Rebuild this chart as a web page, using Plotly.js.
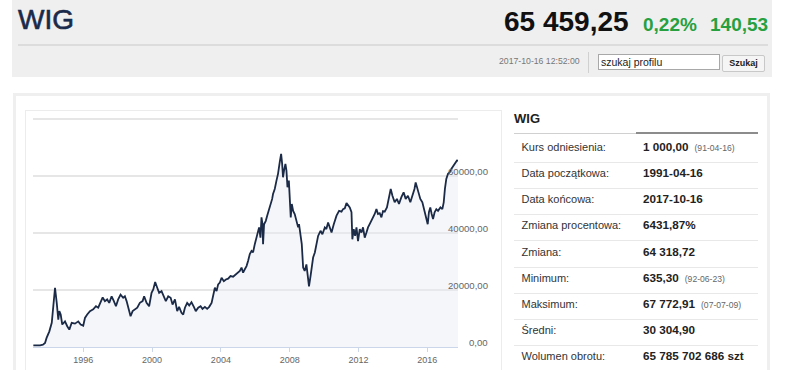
<!DOCTYPE html>
<html><head><meta charset="utf-8">
<script src="https://cdn.plot.ly/plotly-3.0.1.min.js"></script>
<style>
html,body{margin:0;padding:0;background:#fff;}
body{width:786px;height:370px;overflow:hidden;position:relative;font-family:"Liberation Sans",Arial,Helvetica,sans-serif;}
.a{position:absolute;white-space:nowrap;}
</style></head><body>
<div class="a" style="left:12px;top:0;width:760px;height:77px;background:#efefef"></div>
<div class="a" style="left:18px;top:5px;line-height:30px;font-size:28px;color:#1a2a4a;-webkit-text-stroke:0.6px #1a2a4a">WIG</div>
<div class="a" style="left:504px;top:7px;line-height:30px;font-size:28px;font-weight:bold;color:#111">65 459,25</div>
<div class="a" style="left:643px;top:15px;line-height:20px;font-size:19px;font-weight:bold;color:#27a040">0,22%</div>
<div class="a" style="left:710px;top:15px;line-height:20px;font-size:19px;font-weight:bold;color:#27a040">140,53</div>
<div class="a" style="left:18px;top:44px;width:750px;height:2px;background:#dcdcdc"></div>
<div class="a" style="left:499px;top:55px;line-height:13px;font-size:8.7px;color:#777">2017-10-16 12:52:00</div>
<div class="a" style="left:588px;top:52px;width:1px;height:21px;background:#d0d0d0"></div>
<div class="a" style="left:598px;top:54px;width:120px;height:14px;background:#fff;border:1px solid #a8a8a8;"></div>
<div class="a" style="left:601px;top:55px;line-height:14px;font-size:10.5px;color:#222">szukaj profilu</div>
<div class="a" style="left:722px;top:55px;width:41px;height:15px;background:#f5f5f5;border:1px solid #c8c8c8;border-radius:2px"></div>
<div class="a" style="left:722px;top:55px;width:43px;line-height:17px;text-align:center;font-size:9px;font-weight:bold;color:#222">Szukaj</div>

<div class="a" style="left:13px;top:93px;width:751px;height:300px;border:3px solid #efefef;border-bottom:none"></div>
<div class="a" style="left:25px;top:110px;width:475px;height:280px;border:1px solid #ececec;border-bottom:none"></div>
<div id="chart" class="a" style="left:26px;top:111px;width:474px;height:259px"></div>
<div id="tbl"></div>

<script>
// WIG index, values (decimal year, index points)
var years = [
1993.10,1993.31,1993.49,1993.66,1993.78,1993.87,1994.03,1994.17,1994.26,1994.36,
1994.46,1994.55,1994.61,1994.69,1994.78,1994.94,1995.07,1995.19,1995.33,1995.52,
1995.71,1995.85,1996.00,1996.10,1996.23,1996.39,1996.58,1996.74,1996.87,1997.01,
1997.13,1997.26,1997.39,1997.51,1997.65,1997.78,1997.90,1998.03,1998.17,1998.32,
1998.42,1998.52,1998.61,1998.75,1998.87,1999.00,1999.14,1999.29,1999.45,1999.54,
1999.68,1999.83,1999.97,2000.07,2000.18,2000.30,2000.41,2000.55,2000.65,2000.80,
2000.94,2001.08,2001.19,2001.33,2001.46,2001.57,2001.71,2001.81,2001.91,2002.04,
2002.16,2002.29,2002.43,2002.54,2002.68,2002.82,2002.93,2003.07,2003.20,2003.32,
2003.46,2003.55,2003.65,2003.75,2003.84,2003.94,2004.04,2004.17,2004.29,2004.42,
2004.56,2004.71,2004.87,2005.00,2005.10,2005.20,2005.29,2005.39,2005.49,2005.58,
2005.68,2005.78,2005.87,2005.97,2006.07,2006.16,2006.22,2006.30,2006.36,2006.42,
2006.45,2006.51,2006.61,2006.69,2006.80,2006.88,2006.98,2007.03,2007.13,2007.23,
2007.32,2007.42,2007.50,2007.56,2007.61,2007.67,2007.75,2007.81,2007.87,2007.95,
2008.00,2008.06,2008.12,2008.20,2008.29,2008.39,2008.49,2008.54,2008.63,2008.70,
2008.78,2008.87,2008.97,2009.05,2009.12,2009.21,2009.28,2009.36,2009.46,2009.55,
2009.65,2009.79,2009.90,2010.04,2010.13,2010.23,2010.33,2010.43,2010.56,2010.72,
2010.87,2011.01,2011.10,2011.20,2011.30,2011.39,2011.49,2011.59,2011.64,2011.72,
2011.80,2011.88,2011.97,2012.07,2012.17,2012.26,2012.36,2012.46,2012.55,2012.69,
2012.81,2012.94,2013.04,2013.13,2013.23,2013.33,2013.42,2013.52,2013.65,2013.77,
2013.87,2013.97,2014.10,2014.23,2014.35,2014.49,2014.62,2014.74,2014.87,2015.01,
2015.13,2015.25,2015.32,2015.42,2015.51,2015.59,2015.71,2015.79,2015.86,2015.94,
2016.02,2016.09,2016.17,2016.25,2016.33,2016.42,2016.52,2016.62,2016.76,2016.87,
2016.95,2017.02,2017.10,2017.20,2017.30,2017.39,2017.53,2017.64,2017.72,2017.79];
var values = [
600,500,600,800,1400,3200,5500,8500,14300,20800,
15500,9600,12600,11400,7900,9000,7300,6100,8500,8200,
9000,7900,7500,10200,11400,12600,13200,14300,13800,15500,
17400,16100,16700,15500,17800,16100,14300,16700,18400,17300,
17800,16100,14300,10800,12600,13200,13800,15500,16100,17800,
15500,14300,19000,20200,22800,20800,19000,19600,18400,16100,
17800,17300,14900,16700,12600,14100,12000,11400,13800,15500,
14600,15700,14100,12600,13800,14300,13400,14100,13400,14100,
15500,18400,20800,19600,22000,22600,24300,23100,23700,24000,
24900,24700,25500,26100,26700,27900,26100,27300,28400,30200,
32600,33700,33200,36100,38400,39600,42000,38400,45500,43100,
36100,43100,44300,46100,48400,49600,52000,53700,55500,58400,
60800,64900,67800,64300,59600,61900,64300,61900,56100,58400,
53700,45500,50200,47800,46700,44300,42000,43100,39600,36100,
27900,26700,29000,25500,21300,24900,29000,31400,33200,36100,
39000,40800,39600,42000,41400,43700,42000,40200,43100,46100,
47800,47500,48400,48700,50500,49800,49000,47300,37800,41400,
39000,42000,37200,41400,40200,42000,38400,40200,42000,43700,
44900,46700,48400,46700,47000,45500,47700,47500,49000,53100,
55500,53100,50800,52000,50200,52600,54300,52000,53100,50800,
53100,55500,57800,55500,53700,52000,50800,49000,47300,45500,
43100,47300,49000,46700,44900,47300,48400,47800,49000,48400,
50800,55500,59000,60800,61400,62500,63700,64900,65500,65459];

var xTickVals = [1996, 2000, 2004, 2008, 2012, 2016];
var xTickText = ['1996', '2000', '2004', '2008', '2012', '2016'];
var yGridVals = [0, 20000, 40000, 60000, 80000];
var yLabelVals = [0, 20000, 40000, 60000];
var yLabelText = ['0,00', '20000,00', '40000,00', '60000,00'];

// side table
var tblTitle = 'WIG';
var tblLabels = ['Kurs odniesienia:', 'Data początkowa:', 'Data końcowa:', 'Zmiana procentowa:', 'Zmiana:', 'Minimum:', 'Maksimum:', 'Średni:', 'Wolumen obrotu:'];
var tblValues = ['1 000,00', '1991-04-16', '2017-10-16', '6431,87%', '64 318,72', '635,30', '67 772,91', '30 304,90', '65 785 702 686 szt'];
var tblNotes = ['(91-04-16)', '', '', '', '', '(92-06-23)', '(07-07-09)', '', ''];

var font = 'Liberation Sans, Arial, sans-serif';
var trace = {
  x: years, y: values, type: 'scatter', mode: 'lines',
  line: {color: '#1b2a47', width: 1.8},
  fill: 'tozeroy', fillcolor: 'rgba(232,236,243,0.45)',
  hoverinfo: 'skip'
};
var annotations = yLabelVals.map(function (v, i) {
  return {x: 1, xref: 'paper', xanchor: 'right', xshift: 32, y: v, yref: 'y', yanchor: 'middle', yshift: 5,
    text: yLabelText[i], showarrow: false, font: {family: font, size: 9.6, color: '#666'}};
});
var layout = {
  width: 474, height: 259,
  margin: {l: 7, r: 42, t: 7, b: 23, pad: 0},
  paper_bgcolor: 'rgba(0,0,0,0)', plot_bgcolor: '#fff',
  showlegend: false,
  xaxis: {range: [1993.08, 2017.78], tickmode: 'array', tickvals: xTickVals, ticktext: xTickText,
    showgrid: false, zeroline: false, showline: true, linecolor: '#ccd6eb', linewidth: 1,
    ticks: 'outside', ticklen: 4, tickcolor: '#ccd6eb', tickwidth: 1,
    tickfont: {family: font, size: 9, color: '#666'}},
  yaxis: {range: [0, 80400], tickmode: 'array', tickvals: yGridVals, showticklabels: false,
    showgrid: true, gridcolor: '#e6e6e6', gridwidth: 1.5, zeroline: false, ticks: ''},
  annotations: annotations
};
Plotly.newPlot('chart', [trace], layout, {staticPlot: true, displayModeBar: false});

// build table
var t = document.getElementById('tbl');
function add(html, style) {
  var d = document.createElement('div');
  d.className = 'a';
  d.setAttribute('style', style);
  d.innerHTML = html;
  t.appendChild(d);
}
add(tblTitle, 'left:514px;top:110px;line-height:18px;font-size:13px;font-weight:bold;color:#222');
add('', 'left:514px;top:133px;width:122px;height:1px;background:#d0d0d0');
add('', 'left:636px;top:132px;width:122px;height:2px;background:#8c8c8c');
for (var i = 0; i < tblLabels.length; i++) {
  var c = 146.7 + 26.2 * i;
  add(tblLabels[i], 'left:521.5px;top:' + (c - 13) + 'px;line-height:26px;font-size:11px;color:#333');
  var note = tblNotes[i] ? '<span style="font-size:8.6px;font-weight:normal;color:#666;margin-left:6px">' + tblNotes[i] + '</span>' : '';
  add(tblValues[i] + note, 'left:643px;top:' + (c - 13) + 'px;line-height:26px;font-size:11.7px;font-weight:bold;color:#222');
  if (i < tblLabels.length - 1) add('', 'left:514px;top:' + (c + 15) + 'px;width:244px;height:1px;background:#e8e8e8');
}
</script>
</body></html>
